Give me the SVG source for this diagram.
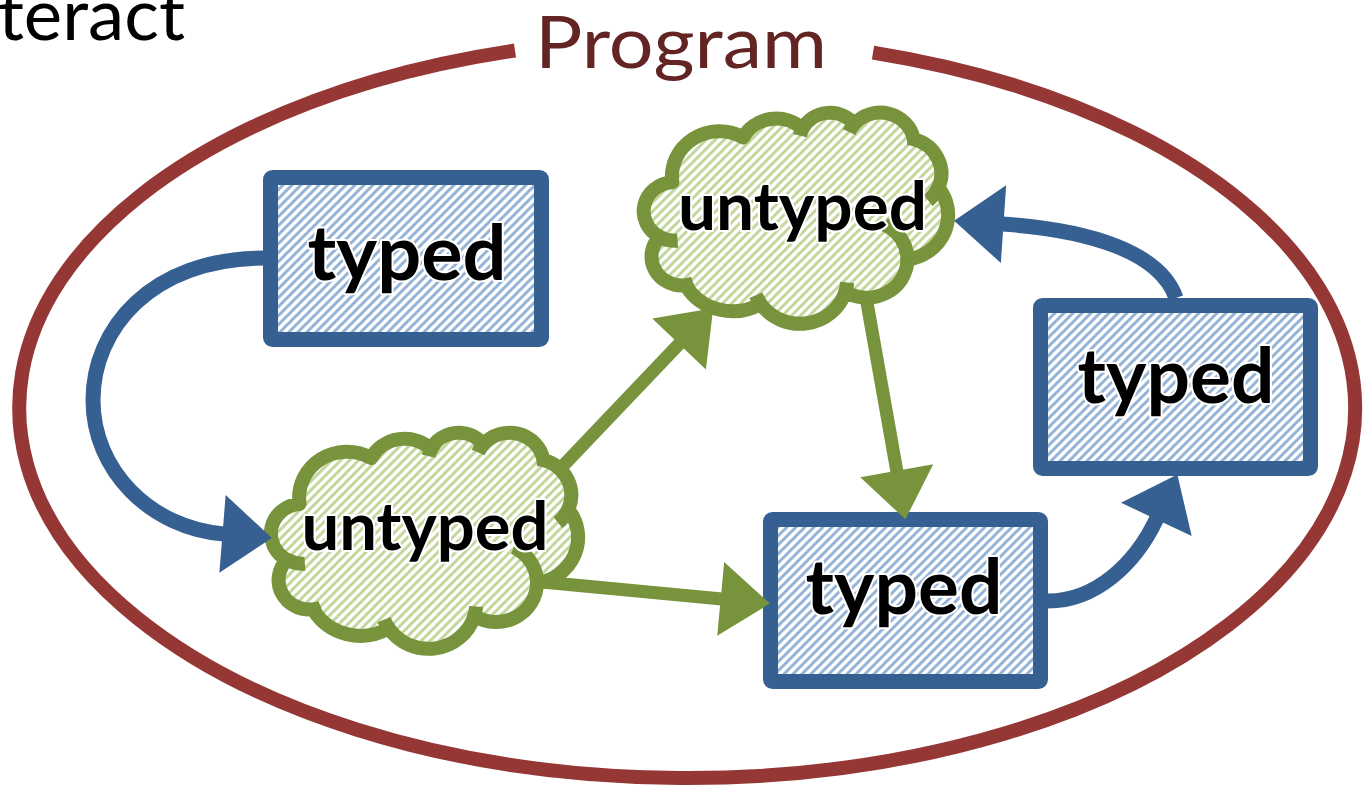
<svg xmlns="http://www.w3.org/2000/svg" width="1369" height="787" viewBox="0 0 1369 787">
  <style>
    .box { fill: url(#hatch-blue); stroke: #376092; stroke-width: 15; stroke-linejoin: round; }
    .cloud { fill: url(#hatch-green); stroke: #77933C; stroke-width: 14; stroke-linejoin: round; }
    .cloud-inner { fill: none; stroke: #77933C; stroke-width: 14; }
    .lbl { font-family: Lato, "Open Sans", "Liberation Sans", sans-serif; font-weight: bold; fill: #000; stroke: #fff; stroke-width: 4; stroke-linejoin: round; paint-order: stroke; text-anchor: middle; }
    .typed { font-size: 76px; }
    .untyped { font-size: 66px; }
    .plain { font-family: Lato, "Open Sans", "Liberation Sans", sans-serif; font-size: 72px; }
    .conn-blue { fill: none; stroke: #376092; stroke-width: 15; marker-end: url(#ah-blue); }
    .conn-green { fill: none; stroke: #77933C; stroke-width: 13; marker-end: url(#ah-green); }
  </style>
  <defs>
    <pattern id="hatch-blue" width="9" height="9" patternUnits="userSpaceOnUse">
      <rect width="9" height="9" fill="#fff"/>
      <path d="M-2,2 L2,-2 M0,9 L9,0 M7,11 L11,7" stroke="#95B3D7" stroke-width="3"/>
    </pattern>
    <pattern id="hatch-green" width="9" height="9" patternUnits="userSpaceOnUse">
      <rect width="9" height="9" fill="#fff"/>
      <path d="M-2,2 L2,-2 M0,9 L9,0 M7,11 L11,7" stroke="#C3D69B" stroke-width="3"/>
    </pattern>
    <marker id="ah-blue" markerUnits="strokeWidth" markerWidth="4" markerHeight="6" refX="0" refY="0" orient="auto" overflow="visible">
      <path d="M-0.1,-2.6 L3.2,0 L-0.1,2.6 Z" fill="#376092"/>
    </marker>
    <marker id="ah-green" markerUnits="strokeWidth" markerWidth="4" markerHeight="6" refX="0" refY="0" orient="auto" overflow="visible">
      <path d="M-0.1,-2.85 L3.7,0 L-0.1,2.85 Z" fill="#77933C"/>
    </marker>
  </defs>

  <rect width="1369" height="787" fill="#fff"/>

  <!-- heading fragment at the top-left edge -->
  <text class="plain" x="-2" y="40" fill="#000" textLength="187" lengthAdjust="spacingAndGlyphs">teract</text>

  <!-- program boundary with a gap for its title -->
  <g id="program">
    <path d="M873,52.6 A668,370 0 1 1 515,50.5" fill="none" stroke="#953735" stroke-width="14"/>
    <text class="plain" x="535" y="68" fill="#632523" textLength="292" lengthAdjust="spacingAndGlyphs">Program</text>
  </g>

  <!-- typed modules -->
  <g id="typed-1">
    <rect class="box" x="270.5" y="177.5" width="271" height="162" rx="2"/>
    <text class="lbl typed" x="407" y="280" textLength="199" lengthAdjust="spacingAndGlyphs">typed</text>
  </g>
  <g id="typed-2">
    <rect class="box" x="1040.5" y="305.5" width="270" height="163" rx="2"/>
    <text class="lbl typed" x="1176" y="403" textLength="197" lengthAdjust="spacingAndGlyphs">typed</text>
  </g>
  <g id="typed-3">
    <rect class="box" x="770.5" y="519.5" width="270" height="162" rx="2"/>
    <text class="lbl typed" x="904" y="614" textLength="197" lengthAdjust="spacingAndGlyphs">typed</text>
  </g>

  <!-- untyped modules (cloud outlines) -->
  <g id="untyped-1">
    <path class="cloud" d="M299.6,503.9 A47.83,45.95 0 0 1 371.2,458.0 A37.78,36.34 0 0 1 431.1,449.2 A30.92,29.73 0 0 1 483.3,444.4 A34.40,32.98 0 0 1 543.4,459.9 A37.78,36.37 0 0 1 568.2,509.3 A47.99,46.10 0 0 1 537.0,583.0 A40.98,39.34 0 0 1 474.3,616.1 A47.83,46.08 0 0 1 388.7,628.3 A54.68,52.72 0 0 1 313.1,609.4 A30.88,29.59 0 0 1 287.0,559.7 A30.78,29.73 0 0 1 299.6,503.9 Z"/>
    <path class="cloud-inner" d="M304.9,563.7 A30.78,29.73 0 0 1 287.0,559.7 M321.0,607.4 A30.88,29.59 0 0 1 313.1,609.4 M388.7,628.3 A47.83,46.08 0 0 1 384.0,619.6 M476.2,606.5 A47.83,46.08 0 0 1 474.3,616.1 M513.9,547.3 A40.98,39.34 0 0 1 537.0,583.0 M568.2,509.3 A37.78,36.37 0 0 1 558.0,522.7 M543.4,459.9 A34.40,32.98 0 0 1 544.0,466.2 M478.1,452.5 A34.40,32.98 0 0 1 483.3,444.4 M428.5,456.1 A30.92,29.73 0 0 1 431.1,449.2"/>
    <text class="lbl untyped" x="425" y="550" textLength="247" lengthAdjust="spacingAndGlyphs">untyped</text>
  </g>
  <g id="untyped-2">
    <path class="cloud" d="M672.4,182.2 A47.37,44.89 0 0 1 743.2,137.4 A37.41,35.49 0 0 1 802.5,128.8 A30.62,29.04 0 0 1 854.2,124.1 A34.07,32.21 0 0 1 913.8,139.2 A37.41,35.52 0 0 1 938.3,187.5 A47.52,45.03 0 0 1 907.4,259.5 A40.58,38.42 0 0 1 845.3,291.8 A47.36,45.01 0 0 1 760.6,303.8 A54.15,51.50 0 0 1 685.7,285.3 A30.58,28.91 0 0 1 659.8,236.8 A30.48,29.04 0 0 1 672.4,182.2 Z"/>
    <path class="cloud-inner" d="M677.6,240.7 A30.48,29.04 0 0 1 659.8,236.8 M693.5,283.4 A30.58,28.91 0 0 1 685.7,285.3 M760.6,303.8 A47.36,45.01 0 0 1 755.9,295.3 M847.2,282.5 A47.36,45.01 0 0 1 845.3,291.8 M884.5,224.7 A40.58,38.42 0 0 1 907.4,259.5 M938.3,187.5 A37.41,35.52 0 0 1 928.2,200.6 M913.8,139.2 A34.07,32.21 0 0 1 914.3,145.4 M849.0,132.0 A34.07,32.21 0 0 1 854.2,124.1 M800.0,135.6 A30.62,29.04 0 0 1 802.5,128.8"/>
    <text class="lbl untyped" x="802.5" y="230" textLength="249" lengthAdjust="spacingAndGlyphs">untyped</text>
  </g>

  <!-- calls between modules -->
  <g id="connectors">
    <path class="conn-blue" d="M265,258 C150,258 93,330 93,400 C93,470 150,528 224,534"/>
    <path class="conn-blue" d="M1048,601 C1095,601 1135,565 1157,518"/>
    <path class="conn-blue" d="M1176,298 C1160,252 1090,230 1002,224"/>
    <path class="conn-green" d="M560,469 L680,343"/>
    <path class="conn-green" d="M866,297 L897,472"/>
    <path class="conn-green" d="M542,582 L722,599"/>
  </g>
</svg>
